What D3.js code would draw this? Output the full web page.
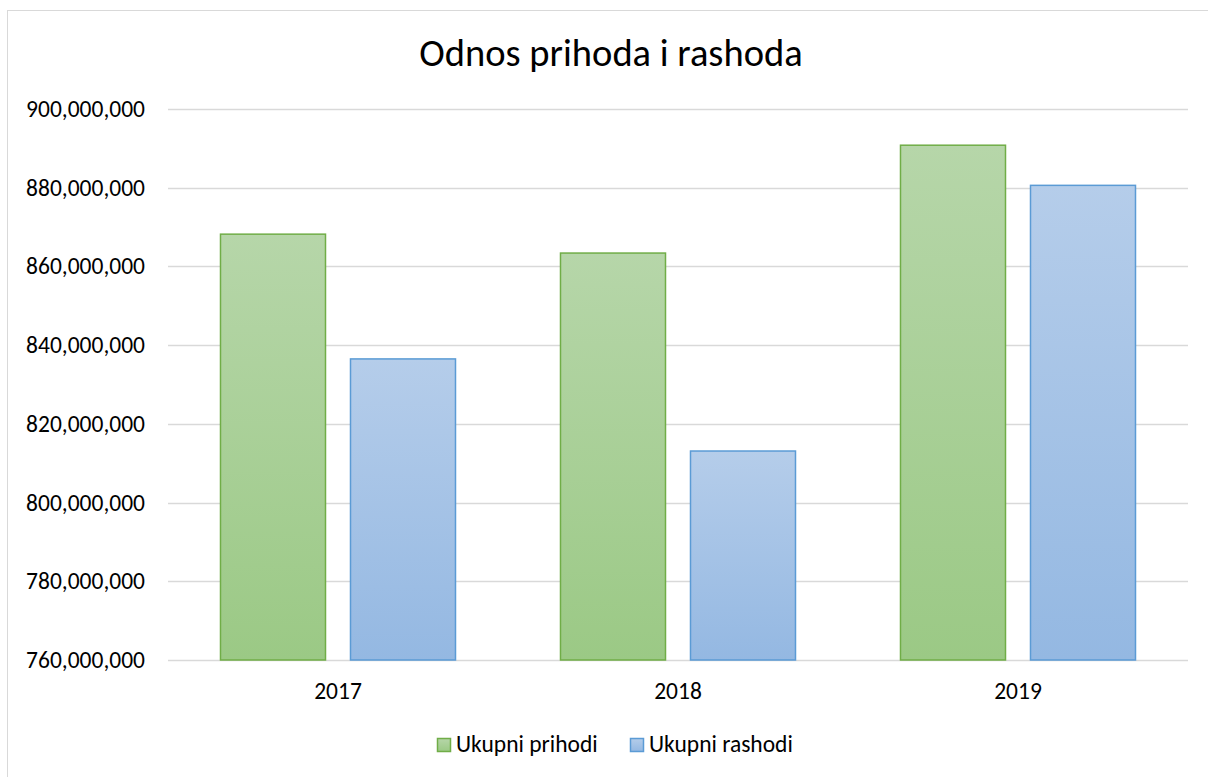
<!DOCTYPE html>
<html>
<head>
<meta charset="utf-8">
<script src="https://cdn.jsdelivr.net/npm/d3@7"></script>
<style>
  body { margin: 0; background: #fff; }
  svg text { font-family: Carlito, Calibri, Lato, sans-serif; }
</style>
</head>
<body>
<div class="chart"></div>
<script>
var width = 1208;
var height = 777;

var years = ["2017", "2018", "2019"];
var seriesNames = ["Ukupni prihodi", "Ukupni rashodi"];
var prihodi = [868200000, 863400000, 890800000];
var rashodi = [836500000, 813100000, 880600000];
var yTicks = [760000000, 780000000, 800000000, 820000000, 840000000, 860000000, 880000000, 900000000];

var colors = {
  "Ukupni prihodi": { top: "#b6d6a9", bottom: "#9bc985", stroke: "#70ad47" },
  "Ukupni rashodi": { top: "#b5cdea", bottom: "#94b8e2", stroke: "#5b9bd5" }
};

var rows = years.map(function(y, i) {
  return { year: y, values: [
    { name: seriesNames[0], value: prihodi[i] },
    { name: seriesNames[1], value: rashodi[i] }
  ]};
});

var margin = { top: 109, right: 20, bottom: 117, left: 168 };

var svg = d3.select(".chart")
  .append("svg")
  .attr("width", width)
  .attr("height", height);

// gradients
var defs = svg.append("defs");
seriesNames.forEach(function(s, i) {
  var grad = defs.append("linearGradient")
    .attr("id", "grad" + i)
    .attr("x1", 0).attr("y1", 0).attr("x2", 0).attr("y2", 1);
  grad.append("stop").attr("offset", "0%").attr("stop-color", colors[s].top);
  grad.append("stop").attr("offset", "100%").attr("stop-color", colors[s].bottom);
});

// chart border
svg.append("rect")
  .attr("x", 7.5)
  .attr("y", 10.5)
  .attr("width", width + 10)
  .attr("height", height + 10)
  .attr("fill", "none")
  .attr("stroke", "#d9d9d9");

var x0 = d3.scaleBand()
  .domain(years)
  .range([margin.left, width - margin.right]);

var x1 = d3.scaleBand()
  .domain(seriesNames)
  .range([0, x0.bandwidth()])
  .paddingInner(0.1846)
  .paddingOuter(0.4);

var y = d3.scaleLinear()
  .domain([760000000, 900000000])
  .range([height - margin.bottom, margin.top]);

var fmt = d3.format(",");

// gridlines
svg.append("g")
  .selectAll("line")
  .data(yTicks)
  .enter()
  .append("line")
  .attr("x1", margin.left)
  .attr("x2", width - margin.right)
  .attr("y1", function(d) { return Math.round(y(d)) + 0.5; })
  .attr("y2", function(d) { return Math.round(y(d)) + 0.5; })
  .attr("stroke", "#d9d9d9")
  .attr("stroke-width", 1.3);

// y axis labels
var yAxis = d3.axisLeft(y)
  .tickValues(yTicks)
  .tickFormat(fmt)
  .tickSize(0)
  .tickPadding(23);

svg.append("g")
  .attr("transform", "translate(" + margin.left + ",0)")
  .call(yAxis)
  .call(function(g) { g.select(".domain").remove(); })
  .selectAll("text")
  .attr("fill", "#000")
  .style("font-size", "23.5px");

// bars
var groups = svg.append("g")
  .selectAll("g")
  .data(rows)
  .enter()
  .append("g")
  .attr("transform", function(d) { return "translate(" + x0(d.year) + ",0)"; });

groups.selectAll("rect")
  .data(function(d) { return d.values; })
  .enter()
  .append("rect")
  .attr("x", function(d) { return x1(d.name) + 0.5; })
  .attr("y", function(d) { return y(d.value); })
  .attr("width", x1.bandwidth() - 1)
  .attr("height", function(d) { return y(760000000) - y(d.value); })
  .attr("fill", function(d) { return "url(#grad" + seriesNames.indexOf(d.name) + ")"; })
  .attr("stroke", function(d) { return colors[d.name].stroke; })
  .attr("stroke-width", 1.5);

// x axis labels
var xAxis = d3.axisBottom(x0).tickSize(0).tickPadding(22);
svg.append("g")
  .attr("transform", "translate(0," + (height - margin.bottom) + ")")
  .call(xAxis)
  .call(function(g) { g.select(".domain").remove(); })
  .selectAll("text")
  .attr("fill", "#000")
  .style("font-size", "23.5px");

// title
svg.append("text")
  .attr("x", 611)
  .attr("y", 66)
  .attr("text-anchor", "middle")
  .style("font-size", "38.5px")
  .style("fill", "#000")
  .text("Odnos prihoda i rashoda");

// legend
var legendX = [437, 630];
var legend = svg.append("g")
  .selectAll("g")
  .data(seriesNames)
  .enter()
  .append("g")
  .attr("transform", function(d, i) { return "translate(" + legendX[i] + ",738)"; });

legend.append("rect")
  .attr("x", 0.5)
  .attr("y", 0.5)
  .attr("width", 13)
  .attr("height", 13)
  .attr("fill", function(d, i) { return "url(#grad" + i + ")"; })
  .attr("stroke", function(d) { return colors[d].stroke; })
  .attr("stroke-width", 1.5);

legend.append("text")
  .attr("x", 19)
  .attr("y", 14)
  .style("font-size", "23.5px")
  .style("fill", "#000")
  .text(function(d) { return d; });
</script>
</body>
</html>
